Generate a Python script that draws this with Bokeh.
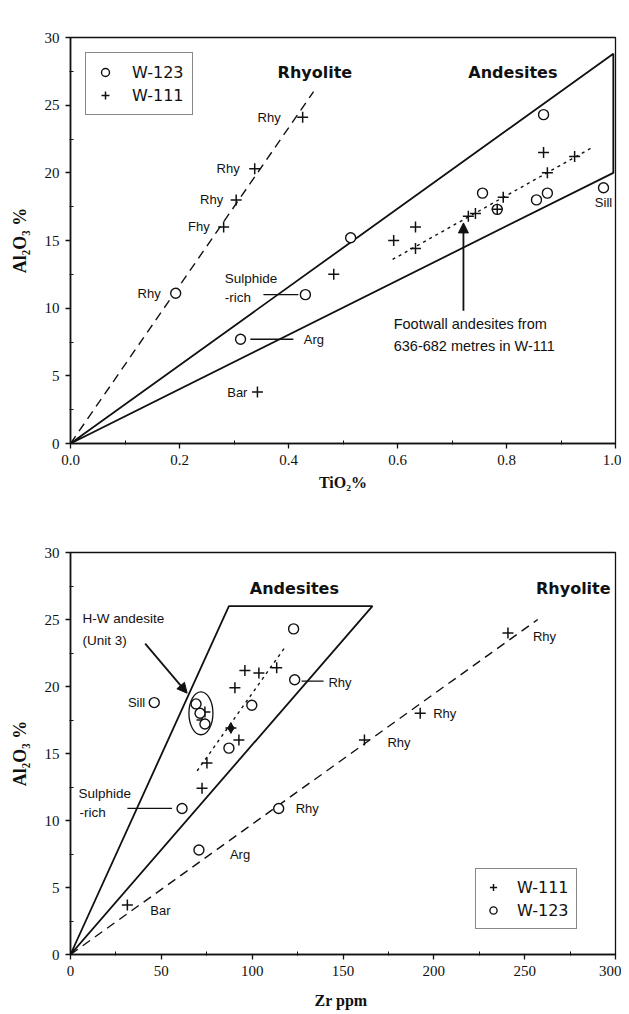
from bokeh.plotting import figure
from bokeh.layouts import column
from bokeh.models import (Legend, LegendItem, Label, Arrow, NormalHead,
                          FixedTicker, Range1d)
from bokeh.core.properties import value
from bokeh.embed import file_html
from bokeh.resources import INLINE

# ---------------- Panel a: Al2O3 vs TiO2 ----------------
a_w123_tio2 = [0.193, 0.431, 0.312, 0.514, 0.756, 0.855, 0.875, 0.868, 0.978, 0.783]
a_w123_al = [11.1, 11.0, 7.7, 15.2, 18.5, 18.0, 18.5, 24.3, 18.9, 17.3]
a_w111_tio2 = [0.426, 0.338, 0.304, 0.281, 0.343, 0.483, 0.593, 0.633, 0.633,
               0.730, 0.743, 0.794, 0.783, 0.868, 0.875, 0.925]
a_w111_al = [24.1, 20.3, 18.0, 16.0, 3.8, 12.5, 15.0, 16.0, 14.4,
             16.8, 17.0, 18.2, 17.3, 21.5, 20.0, 21.2]
a_rhy_line_tio2 = [0.0, 0.446]
a_rhy_line_al = [0.0, 26.0]
a_field_tio2 = [0.0, 0.996, 0.996, 0.0]
a_field_al = [0.0, 28.8, 20.0, 0.0]
a_trend_tio2 = [0.591, 0.954]
a_trend_al = [13.6, 21.8]
a_xticks = [0.0, 0.2, 0.4, 0.6, 0.8, 1.0]
a_yticks = [0, 5, 10, 15, 20, 25, 30]

# ---------------- Panel b: Al2O3 vs Zr ----------------
b_w111_zr = [240.8, 192.5, 161.8, 31.3, 96.0, 103.7, 113.5, 90.5, 92.7, 75.1, 72.4,
             74.0, 72.4, 88.3]
b_w111_al = [24.0, 18.0, 16.0, 3.7, 21.2, 21.0, 21.4, 19.9, 16.0, 14.3, 12.4,
             18.1, 17.5, 16.9]
b_w123_zr = [114.6, 70.7, 61.4, 46.1, 123.4, 122.8, 99.8, 87.2, 69.1, 71.3, 74.0]
b_w123_al = [10.9, 7.8, 10.9, 18.8, 20.5, 24.3, 18.6, 15.4, 18.7, 18.0, 17.2]
b_filled_zr = [88.3]
b_filled_al = [16.9]
b_rhy_line_zr = [0.0, 257.2]
b_rhy_line_al = [0.0, 25.0]
b_field_zr = [0.0, 87.2, 166.2, 0.0]
b_field_al = [0.0, 26.0, 26.0, 0.0]
b_trend_zr = [69.7, 117.9]
b_trend_al = [13.7, 22.9]
b_cluster = dict(zr=71.8, al=18.0, w=13.2, h=3.2)
b_xticks = [0, 50, 100, 150, 200, 250, 300]
b_yticks = [0, 5, 10, 15, 20, 25, 30]

SANS = "Liberation Sans"
BOLDS = "DejaVu Sans"
SERIF = "Liberation Serif"
INK = "#111111"


def style_axes(p, xticks, yticks, xminor, yminor, xfmt, xlabel, xstand):
    p.xaxis.ticker = FixedTicker(ticks=xticks, minor_ticks=xminor)
    p.yaxis.ticker = FixedTicker(ticks=yticks, minor_ticks=yminor)
    p.xaxis.major_label_overrides = {t: xfmt(t) for t in xticks}
    p.xgrid.visible = False
    p.ygrid.visible = False
    for ax in (p.xaxis, p.yaxis):
        ax.axis_line_color = INK
        ax.axis_line_width = 1.6
        ax.major_tick_line_color = INK
        ax.major_tick_line_width = 1.3
        ax.major_tick_out = 5
        ax.major_tick_in = 0
        ax.minor_tick_line_color = INK
        ax.minor_tick_in = 3
        ax.minor_tick_out = 1
        ax.major_label_text_font = SERIF
        ax.major_label_text_font_size = "15px"
        ax.major_label_text_color = INK
        ax.axis_label_text_font = SERIF
        ax.axis_label_text_font_style = "bold"
        ax.axis_label_text_color = INK
    p.yaxis.axis_label = "Al\u2082O\u2083 %"
    p.yaxis.axis_label_text_font_size = "18px"
    p.yaxis.axis_label_standoff = 12
    p.xaxis.axis_label = xlabel
    p.xaxis.axis_label_text_font_size = "16px"
    p.xaxis.axis_label_standoff = xstand
    p.xaxis.major_label_standoff = 6
    p.yaxis.major_label_standoff = 6
    p.outline_line_color = INK
    p.outline_line_width = 1.3


def txt(p, x, y, s, size="13px", align="left", xo=0, yo=0, font=SANS, bold=False):
    p.text(x=[x], y=[y], text=[s], text_font=value(font),
           text_font_size=value(size), text_align=align,
           text_baseline="middle", x_offset=xo, y_offset=yo,
           text_color=INK, text_font_style="bold" if bold else "normal")


# ===================== Panel a =====================
pa = figure(width=621, height=495, output_backend="svg", toolbar_location=None,
            x_range=Range1d(0, 1), y_range=Range1d(0, 30),
            min_border_left=70, min_border_right=5, min_border_top=37,
            min_border_bottom=52)
style_axes(pa, a_xticks, a_yticks, [0.1, 0.3, 0.5, 0.7, 0.9],
           [2.5, 7.5, 12.5, 17.5, 22.5, 27.5], lambda t: f"{t:.1f}", "TiO\u2082%", 6)

pa.line(a_rhy_line_tio2, a_rhy_line_al, line_color=INK, line_width=1.4, line_dash="9 6")
pa.line(a_field_tio2, a_field_al, line_color=INK, line_width=1.8)
pa.line(a_trend_tio2, a_trend_al, line_color=INK, line_width=1.4, line_dash="3 4")

ra_c = pa.scatter(a_w123_tio2, a_w123_al, marker="circle", size=10, fill_color="white",
                  line_color=INK, line_width=1.4)
ra_x = pa.scatter(a_w111_tio2, a_w111_al, marker="cross", size=11, line_color=INK,
                  line_width=1.5)

# labels on points
txt(pa, a_w111_tio2[0], a_w111_al[0], "Rhy", align="right", xo=-22)
txt(pa, a_w111_tio2[1], a_w111_al[1], "Rhy", align="right", xo=-15)
txt(pa, a_w111_tio2[2], a_w111_al[2], "Rhy", align="right", xo=-13)
txt(pa, a_w111_tio2[3], a_w111_al[3], "Fhy", align="right", xo=-14)
txt(pa, a_w123_tio2[0], a_w123_al[0], "Rhy", align="right", xo=-15)
txt(pa, a_w111_tio2[4], a_w111_al[4], "Bar", align="right", xo=-10)
txt(pa, a_w123_tio2[8], a_w123_al[8], "Sill", align="center", yo=15)
pa.line([0.354, 0.418], [11.0, 11.0], line_color=INK, line_width=1.2)
txt(pa, 0.283, 12.2, "Sulphide", size="13.5px")
txt(pa, 0.283, 10.8, "-rich", size="13.5px")
pa.line([0.330, 0.409], [7.7, 7.7], line_color=INK, line_width=1.4)
txt(pa, 0.428, 7.7, "Arg")
pa.add_layout(Arrow(end=NormalHead(size=10, fill_color=INK, line_color=INK),
                    x_start=0.721, y_start=9.8, x_end=0.721, y_end=16.3,
                    line_color=INK, line_width=1.8))
txt(pa, 0.593, 8.8, "Footwall andesites from", size="14.5px")
txt(pa, 0.593, 7.2, "636-682  metres  in  W-111", size="14.5px")
txt(pa, 0.380, 27.4, "Rhyolite", size="16px", font=BOLDS, bold=True)
txt(pa, 0.730, 27.4, "Andesites", size="16px", font=BOLDS, bold=True)
pa.add_layout(Label(x=0.985, y=31.4, text="a", text_font=BOLDS, text_font_size="15px",
                    text_font_style="bold", text_align="center", text_baseline="middle",
                    text_color=INK))

leg_a = Legend(items=[LegendItem(label="W-123", renderers=[ra_c]),
                      LegendItem(label="W-111", renderers=[ra_x])],
               location="top_left", margin=15, padding=9, spacing=3,
               label_text_font=BOLDS, label_text_font_size="16px",
               label_text_color=INK, label_standoff=17, glyph_width=20,
               glyph_height=20, label_height=20,
               border_line_color=INK, border_line_width=1.3,
               background_fill_color="white", background_fill_alpha=1.0)
pa.add_layout(leg_a)

# ===================== Panel b =====================
pb = figure(width=621, height=517, output_backend="svg", toolbar_location=None,
            x_range=Range1d(0, 300), y_range=Range1d(0, 30),
            min_border_left=68, min_border_right=6, min_border_top=57,
            min_border_bottom=58)
style_axes(pb, b_xticks, b_yticks, [25, 75, 125, 175, 225, 275],
           [2.5, 7.5, 12.5, 17.5, 22.5, 27.5], lambda t: f"{t:d}", "Zr  ppm", 13)

pb.line(b_rhy_line_zr, b_rhy_line_al, line_color=INK, line_width=1.4, line_dash="9 6")
pb.line(b_field_zr, b_field_al, line_color=INK, line_width=1.8)
pb.line(b_trend_zr, b_trend_al, line_color=INK, line_width=1.4, line_dash="3 4")
pb.ellipse(x=[b_cluster["zr"]], y=[b_cluster["al"]], width=b_cluster["w"],
           height=b_cluster["h"], fill_alpha=0, line_color=INK, line_width=1.3)

rb_x = pb.scatter(b_w111_zr, b_w111_al, marker="cross", size=11, line_color=INK,
                  line_width=1.5)
rb_c = pb.scatter(b_w123_zr, b_w123_al, marker="circle", size=10, fill_color="white",
                  line_color=INK, line_width=1.4)
pb.scatter(b_filled_zr, b_filled_al, marker="diamond", size=10, fill_color=INK,
           line_color=INK)

txt(pb, b_w111_zr[0], b_w111_al[0], "Rhy", xo=25, yo=4)
txt(pb, b_w111_zr[1], b_w111_al[1], "Rhy", xo=13)
txt(pb, b_w111_zr[2], b_w111_al[2], "Rhy", xo=23, yo=2)
txt(pb, b_w123_zr[0], b_w123_al[0], "Rhy", xo=17)
txt(pb, b_w123_zr[1], b_w123_al[1], "Arg", xo=31, yo=5)
txt(pb, b_w111_zr[3], b_w111_al[3], "Bar", xo=23, yo=6)
txt(pb, b_w123_zr[3], b_w123_al[3], "Sill", align="right", xo=-9)
pb.line([127.2, 139.3], [20.4, 20.4], line_color=INK, line_width=1.2)
txt(pb, 142.0, 20.3, "Rhy")
pb.line([31.3, 55.9], [10.9, 10.9], line_color=INK, line_width=1.2)
txt(pb, 4.4, 12.0, "Sulphide", size="13.5px")
txt(pb, 4.9, 10.6, "-rich", size="13.5px")
txt(pb, 6.6, 25.1, "H-W andesite", size="13.5px")
txt(pb, 6.6, 23.4, "(Unit  3)", size="13.5px")
pb.add_layout(Arrow(end=NormalHead(size=10, fill_color=INK, line_color=INK),
                    x_start=41.1, y_start=23.2, x_end=64.2, y_end=19.5,
                    line_color=INK, line_width=1.8))
txt(pb, 98.7, 27.3, "Andesites", size="16px", font=BOLDS, bold=True)
txt(pb, 297.3, 27.3, "Rhyolite", size="16px", align="right", font=BOLDS, bold=True)
pb.add_layout(Label(x=295, y=31.1, text="b", text_font=BOLDS, text_font_size="15px",
                    text_font_style="bold", text_align="center", text_baseline="middle",
                    text_color=INK))

leg_b = Legend(items=[LegendItem(label="W-111", renderers=[rb_x]),
                      LegendItem(label="W-123", renderers=[rb_c])],
               location=(405, 25), padding=8, spacing=3,
               label_text_font=BOLDS, label_text_font_size="16px",
               label_text_color=INK, label_standoff=15, glyph_width=18,
               glyph_height=20, label_height=20,
               border_line_color=INK, border_line_width=1.3,
               background_fill_color="white", background_fill_alpha=1.0)
pb.add_layout(leg_b)

layout = column(pa, pb)
open("out.html", "w").write(file_html(layout, INLINE))
